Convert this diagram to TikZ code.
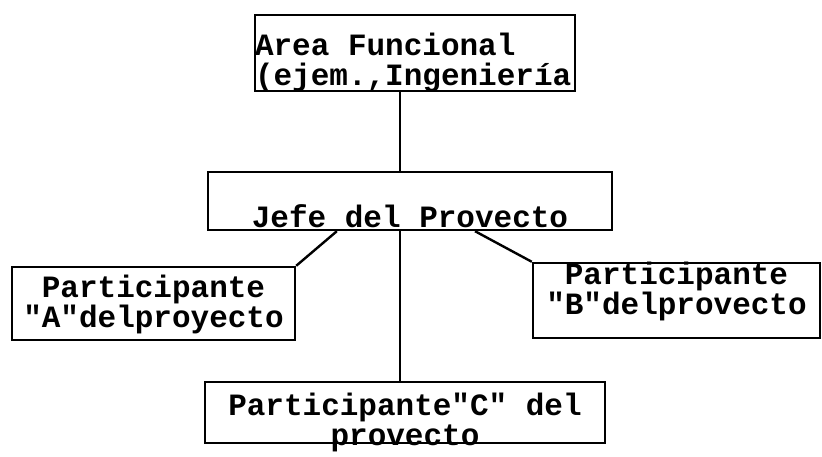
\documentclass[tikz,border=0pt]{standalone}
\usepackage{fontspec}
\usepackage{tikz}
\usetikzlibrary{calc}
\newfontfamily\typew{Liberation Mono}
\newcommand{\twfont}{\typew\bfseries\fontsize{31}{30}\selectfont}

\begin{document}
\begin{tikzpicture}[x=1pt, y=-1pt]

\tikzstyle{box}=[rectangle, draw, line width=2.4pt, inner sep=0pt, font=\twfont, anchor=base,
                 execute at begin node={\spaceskip=18.6pt\relax}]
\tikzstyle{link}=[line width=2.4pt]

\useasboundingbox (0,0) rectangle (822,457);

\node (F)[box, text width=320pt, align=left, text height=41pt, text depth=35pt] at (415,56)
      {Area Funcional\\(ejem.,Ingeniería};

\node (J)[box, text width=404pt, align=center, text height=56pt, text depth=2pt] at (410,228)
      {Jefe del Provecto};

\node (PA)[box, text width=283pt, align=center, text height=30pt, text depth=43pt] at (153.5,297)
      {Participante\\"A"delproyecto};

\node (PB)[box, text width=287pt, align=center, text height=21pt, text depth=54pt] at (676.5,284)
      {Participante\\"B"delprovecto};

\node (PC)[box, text width=400pt, align=center, text height=33pt, text depth=28pt] at (405,415)
      {Participante"C" del\\provecto};

\coordinate (jm) at ($(J.south west)!.475!(J.south east)$);

\draw [link] (jm |- F.south) -- (jm |- J.north);
\draw [link] (jm) -- (jm |- PC.north);
\draw [link] ($(J.south west)!.32!(J.south east)$) -- (PA.north east);
\draw [link] ($(J.south west)!.66!(J.south east)$) -- (PB.north west);

\end{tikzpicture}
\end{document}
